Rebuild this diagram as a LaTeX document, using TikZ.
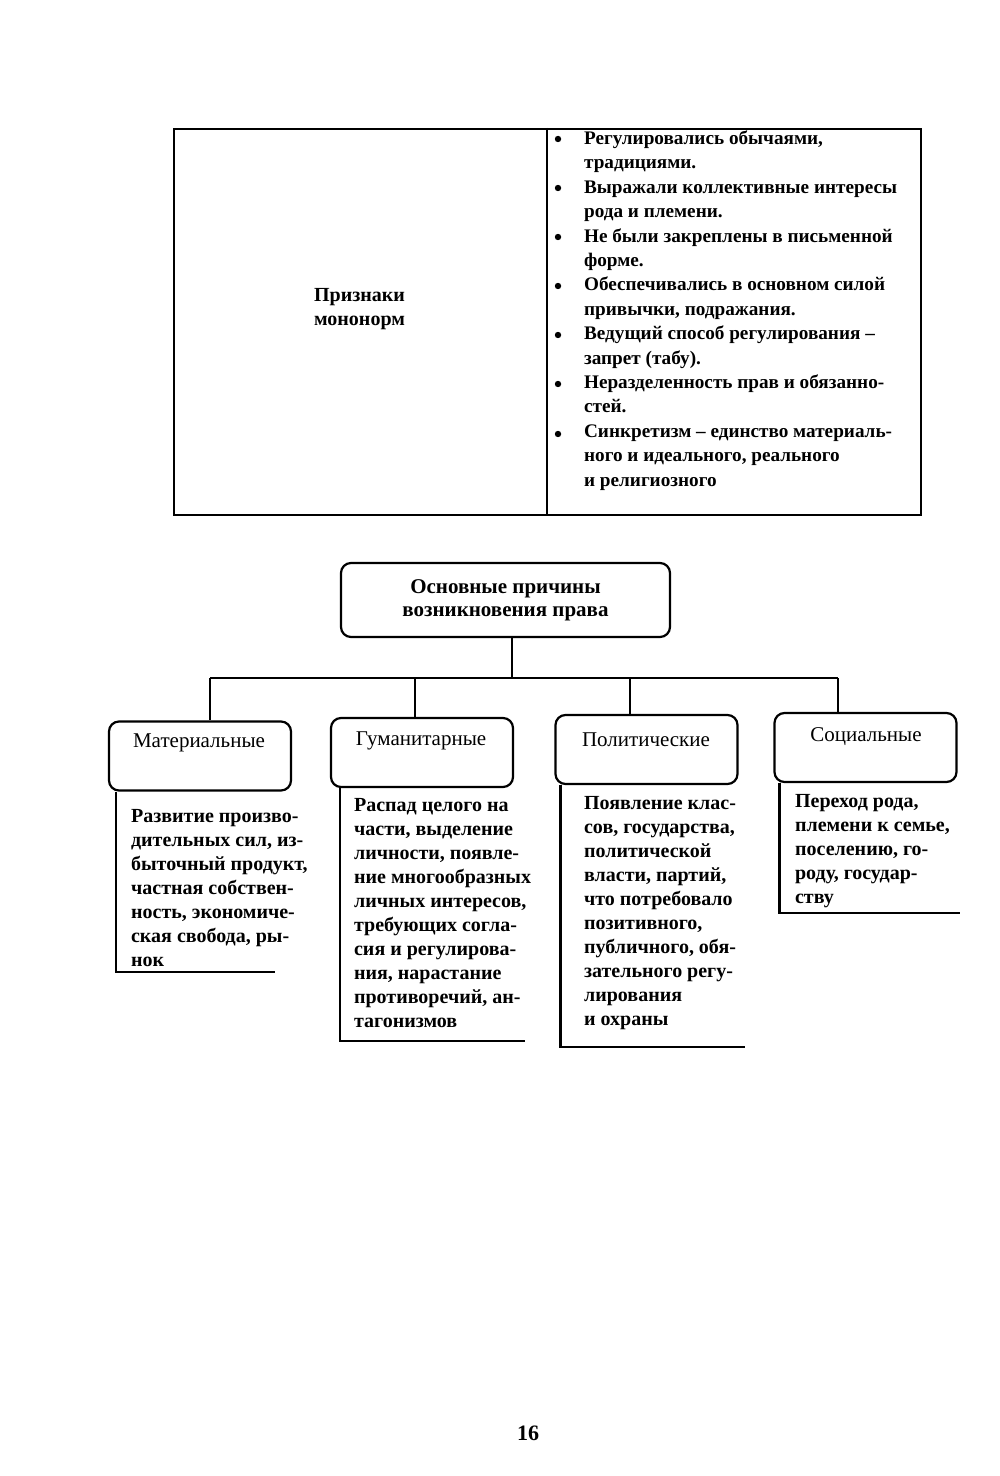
\documentclass[tikz,border=0pt]{standalone}
\usepackage{fontspec}
\setmainfont{Liberation Serif}
\begin{document}
\begin{tikzpicture}[x=0.5pt,y=-0.5pt, line width=1.1pt,
  txt/.style={font=\bfseries\fontsize{10}{12}\selectfont, align=left, inner sep=0pt, anchor=north west},
  listtxt/.style={font=\bfseries\fontsize{9.6}{12.2}\selectfont, align=left, inner sep=0pt, anchor=north west},
  bul/.style={circle, fill=black, inner sep=0pt, minimum size=3.2pt},
  catbox/.style={draw, rounded corners=5pt, minimum width=91pt, minimum height=34.5pt, inner sep=0pt},
  catlabel/.style={font=\fontsize{10.5}{13}\selectfont, inner sep=0pt},
  rootbox/.style={draw, rounded corners=5pt, minimum width=164.5pt, minimum height=37pt, align=center,
    font=\bfseries\fontsize{10.5}{11.5}\selectfont},
  ]
\useasboundingbox (0,0) rectangle (1000,1476);
\fill[white] (0,0) rectangle (1000,1476);

% top table
\node[draw, minimum width=373.5pt, minimum height=193pt, inner sep=0pt, anchor=north west] (tbl) at (173,128) {};
\draw (547,128) -- (547,514);
\node[txt, anchor=west, font=\bfseries\fontsize{10}{12.2}\selectfont] (feat) at (313,309) {Признаки\\мононорм};

\node[listtxt] (list) at (583,126.4) {\strut Регулировались обычаями,\\
традициями.\\
Выражали коллективные интересы\\
рода и племени.\\
Не были закреплены в письменной\\
форме.\\
Обеспечивались в основном силой\\
привычки, подражания.\\
Ведущий способ регулирования --\\
запрет (табу).\\
Неразделенность прав и обязанно-\\
стей.\\
Синкретизм -- единство материаль-\\
ного и идеального, реального\\
и религиозного};
\node[bul] (b1) at (558,139) {};
\node[bul] (b2) at (558,188) {};
\node[bul] (b3) at (558,237) {};
\node[bul] (b4) at (558,286) {};
\node[bul] (b5) at (558,335) {};
\node[bul] (b6) at (558,384) {};
\node[bul] (b7) at (558,434) {};

% tree
\node[rootbox] (root) at (505.5,600) {Основные причины\\возникновения права};
\coordinate (busL) at (210,678);
\coordinate (busR) at (838,678);
\coordinate (busG) at (415,678);
\coordinate (busP) at (630,678);
\coordinate (busC) at (512,678);
\draw (busL) -- (busR);
\draw (busC |- root.south) -- (busC);

\node[catbox] (mat) at (200,756) {};
\node[catbox] (gum) at (422,752.5) {};
\node[catbox] (pol) at (646.5,749.5) {};
\node[catbox] (soc) at (865.5,747.5) {};

\node[catlabel] (matl) at (199,743) {Материальные};
\node[catlabel] (guml) at (421,741) {Гуманитарные};
\node[catlabel] (poll) at (646,740) {Политические};
\node[catlabel] (socl) at (866,737) {Социальные};

\draw (busL) -- (busL |- mat.north);
\draw (busG) -- (busG |- gum.north);
\draw (busP) -- (busP |- pol.north);
\draw (busR) -- (busR |- soc.north);

% descriptions
\draw ([xshift=4pt]mat.south west) |- (275,972);
\draw ([xshift=5pt]gum.south west) |- (525,1041);
\draw ([xshift=3pt]pol.south west) |- (745,1047);
\draw ([xshift=3pt]soc.south west) |- (960,913);

\node[txt] (matd) at (130,804.4) {\strut Развитие произво-\\
дительных сил, из-\\
быточный продукт,\\
частная собствен-\\
ность, экономиче-\\
ская свобода, ры-\\
нок};
\node[txt] (gumd) at (353,793.4) {\strut Распад целого на\\
части, выделение\\
личности, появле-\\
ние многообразных\\
личных интересов,\\
требующих согла-\\
сия и регулирова-\\
ния, нарастание\\
противоречий, ан-\\
тагонизмов};
\node[txt] (pold) at (583,791.4) {\strut Появление клас-\\
сов, государства,\\
политической\\
власти, партий,\\
что потребовало\\
позитивного,\\
публичного, обя-\\
зательного регу-\\
лирования\\
и охраны};
\node[txt] (socd) at (794,789.4) {\strut Переход рода,\\
племени к семье,\\
поселению, го-\\
роду, государ-\\
ству};

\node[font=\bfseries\fontsize{11}{13}\selectfont, inner sep=0pt] (pg) at (528,1433) {16};
\end{tikzpicture}
\end{document}
